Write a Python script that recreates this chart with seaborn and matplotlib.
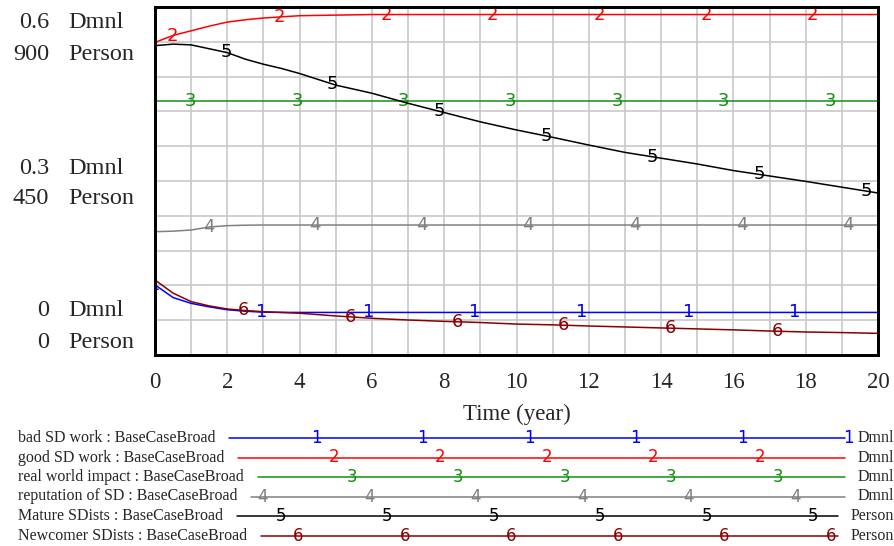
import numpy as np
import pandas as pd
import seaborn as sns
import matplotlib.pyplot as plt

# data (Vensim run "BaseCaseBroad")
time = [0, 0.5, 1, 1.5, 2, 2.5, 3, 3.5, 4, 5, 6, 7, 8, 9, 10, 11, 12, 13, 14, 15, 16, 17, 18, 19, 20]
bad_sd_work = [0.121, 0.099, 0.089, 0.083, 0.078, 0.0755, 0.0738, 0.0735, 0.0734, 0.0734, 0.0734, 0.0734, 0.0734,
               0.0734, 0.0734, 0.0734, 0.0734, 0.0734, 0.0734, 0.0734, 0.0734, 0.0734, 0.0734, 0.0734, 0.0734]
good_sd_work = [0.539, 0.551, 0.559, 0.567, 0.574, 0.578, 0.581, 0.583, 0.585, 0.586, 0.587, 0.587, 0.587,
                0.587, 0.587, 0.587, 0.587, 0.587, 0.587, 0.587, 0.587, 0.587, 0.587, 0.587, 0.587]
real_world_impact = [0.438] * 25
reputation_of_sd = [0.2126, 0.2135, 0.2155, 0.2207, 0.223, 0.2238, 0.2241, 0.2241, 0.2241, 0.2241, 0.2241, 0.2241,
                    0.2241, 0.2241, 0.2241, 0.2241, 0.2241, 0.2241, 0.2241, 0.2241, 0.2241, 0.2241, 0.2241, 0.2241, 0.2241]
mature_sdists = [800, 804, 802, 792, 782, 765, 752, 741, 728, 698, 677, 651, 627, 603, 582, 563, 543, 524, 509,
                 494, 477, 463, 449, 434, 419]
newcomer_sdists = [194, 160, 138, 127, 119, 115, 112, 110, 108, 101, 95, 90.5, 87, 84, 80, 78, 75, 72.5, 70,
                   67.5, 65, 62, 59.5, 58, 56]

names = ['bad SD work', 'good SD work', 'real world impact', 'reputation of SD', 'Mature SDists', 'Newcomer SDists']
units = ['Dmnl', 'Dmnl', 'Dmnl', 'Dmnl', 'Person', 'Person']
values = [bad_sd_work, good_sd_work, real_world_impact, reputation_of_sd, mature_sdists, newcomer_sdists]
colors = ['#0000ff', '#ff0000', '#138f13', '#808080', '#000000', '#8b0000']
run_name = 'BaseCaseBroad'

dmnl_ticks = [0.6, 0.3, 0]
person_ticks = [900, 450, 0]

frames = []
for n, u, v in zip(names, units, values):
    frames.append(pd.DataFrame({'time': time, 'value': v, 'series': n, 'unit': u}))
df = pd.concat(frames, ignore_index=True)

sns.set_style('white')
plt.rcParams['font.family'] = ['Liberation Serif', 'DejaVu Serif']

W, H = 895, 546
L, R, T, B = 155, 878, 7, 355
fig = plt.figure(figsize=(W / 100, H / 100), dpi=100)
ax = fig.add_axes([L / W, 1 - B / H, (R - L) / W, (B - T) / H])
ax2 = ax.twinx()

pal = dict(zip(names, colors))
d1 = df[df.unit == 'Dmnl']
d2 = df[df.unit == 'Person']
sns.lineplot(data=d1, x='time', y='value', hue='series', palette=pal, ax=ax, legend=False, linewidth=1.1)
sns.lineplot(data=d2, x='time', y='value', hue='series', palette=pal, ax=ax2, legend=False, linewidth=1.1)

ax.set_xlim(0, 20)
ax.set_ylim(0, max(dmnl_ticks))
ax2.set_ylim(0, max(person_ticks))
ax.set_xticks(range(0, 21, 2))
ax.set_xticks(range(1, 20, 2), minor=True)
ax.set_yticks(np.linspace(0, max(dmnl_ticks), 11))
ax.set_yticklabels([])
ax2.set_yticks([])
ax2.set_ylabel('')
ax.set_ylabel('')
ax.grid(True, which='both', color='#c8c8c8', linewidth=1.2)
ax.tick_params(which='both', length=0, labelsize=16.5, pad=12)
ax.set_xlabel('Time (year)', fontsize=16.5, labelpad=8)
for a in (ax, ax2):
    for s in a.spines.values():
        s.set_linewidth(2)
        s.set_color('black')

# numbered markers along each curve
step = 2.95
for k, (u, v, c) in enumerate(zip(units, values, colors)):
    ts = np.arange(k * step / 6, 20.05, step)
    ys = np.interp(ts, time, v)
    tgt = ax if u == 'Dmnl' else ax2
    for t, y in zip(ts, ys):
        tgt.text(t, y, str(k + 1), ha='center', va='center', color=c, fontsize=13,
                 family='DejaVu Sans', clip_on=True)

# overlay in pixel coordinates for side labels and the legend
lax = fig.add_axes([0, 0, 1, 1])
lax.set_xlim(0, W)
lax.set_ylim(H, 0)
lax.axis('off')
lax.patch.set_alpha(0)

rows = [(22, 55), (168, 198), (311, 343)]
for (y1, y2), dv, pv in zip(rows, dmnl_ticks, person_ticks):
    lax.text(49, y1, f'{dv:g}', ha='right', va='center', fontsize=17.5)
    lax.text(68, y1, 'Dmnl', ha='left', va='center', fontsize=17.5)
    lax.text(49, y2, f'{pv:g}', ha='right', va='center', fontsize=17.5)
    lax.text(68, y2, 'Person', ha='left', va='center', fontsize=17.5)

renderer = fig.canvas.get_renderer()
leg_y = [438, 457.5, 477, 496.5, 516, 536]
for k, (n, u, c, y) in enumerate(zip(names, units, colors, leg_y)):
    txt = lax.text(18, y, f'{n} : {run_name}', ha='left', va='center', fontsize=11.5)
    x0 = txt.get_window_extent(renderer).x1 + 14
    x1 = 845 if u == 'Dmnl' else 838
    lax.plot([x0, x1], [y, y], color=c, linewidth=1.1)
    lax.text(894, y, u, ha='right', va='center', fontsize=11.5)
    xm = 263 + ((k - 3) % 6) * 17.75
    while xm <= 850:
        if xm >= x0:
            lax.text(xm, y, str(k + 1), ha='center', va='center', color=c, fontsize=12,
                     family='DejaVu Sans')
        xm += 106.5

fig.savefig('out.png', dpi=100)
